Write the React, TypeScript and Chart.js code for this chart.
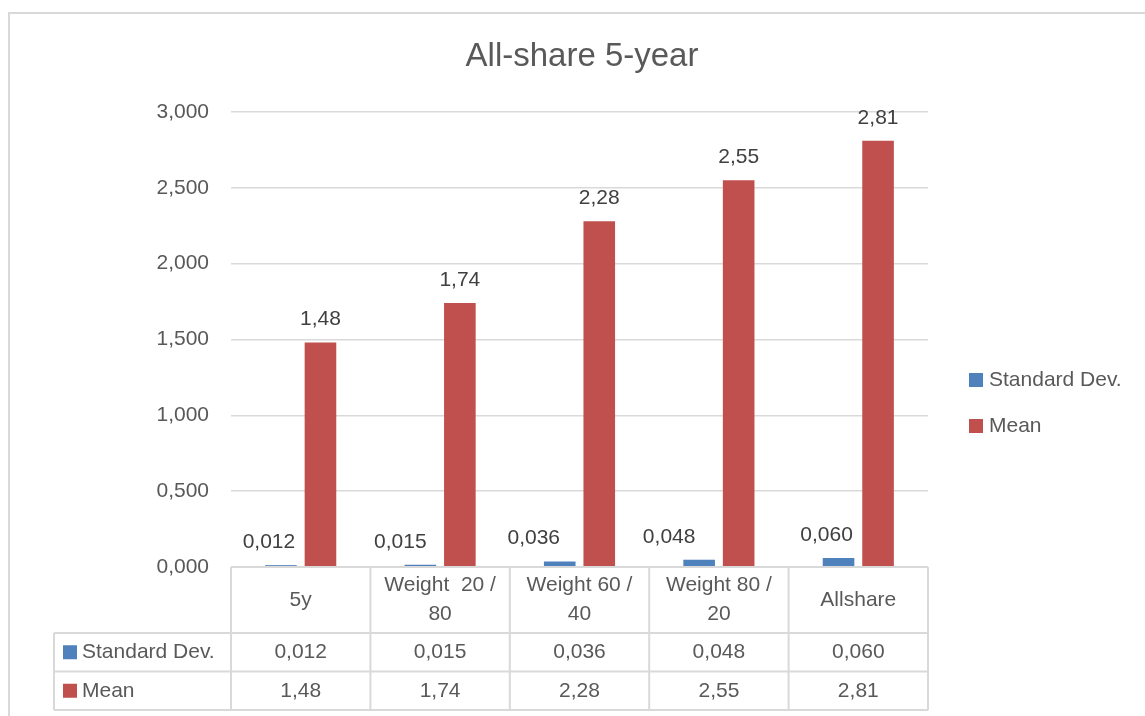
import React, { useEffect, useRef } from 'react';
import { Chart, registerables } from 'chart.js';

Chart.register(...registerables);

const title = 'All-share 5-year';
const categories = ['5y', 'Weight  20 / 80', 'Weight 60 / 40', 'Weight 80 / 20', 'Allshare'];
const seriesNames = ['Standard Dev.', 'Mean'];
const stdDev = [0.012, 0.015, 0.036, 0.048, 0.06];
const mean = [1.48, 1.74, 2.28, 2.55, 2.81];
const seriesDecimals = [3, 2];
const yMin = 0;
const yMax = 3;
const yStep = 0.5;

// style: horizontal nudges of the data labels (Excel avoids overlaps)
const labelNudge = [
  [-12, -20, -26, -30, -12],
  [0, 0, 0, 0, 0],
];

const colors = ['#4F81BD', '#C0504D'];
const textColor = '#595959';
const labelColor = '#404040';
const lineColor = '#D9D9D9';
const FONT = '"Liberation Sans", Arial, sans-serif';

const fmt = (v: number, d: number) => v.toFixed(d).replace('.', ',');
const wrap = (s: string) => {
  const parts = s.split(' / ');
  return parts.length === 2 ? [parts[0] + ' /', parts[1]] : [s];
};

const extras = {
  id: 'excelExtras',
  afterDatasetsDraw(chart: any) {
    const ctx = chart.ctx;
    ctx.save();
    ctx.font = `21px ${FONT}`;
    ctx.fillStyle = labelColor;
    ctx.textAlign = 'center';
    ctx.textBaseline = 'middle';
    chart.data.datasets.forEach((ds: any, di: number) => {
      const meta = chart.getDatasetMeta(di);
      meta.data.forEach((el: any, i: number) => {
        ctx.fillText(fmt(ds.data[i], seriesDecimals[di]), el.x + labelNudge[di][i], el.y - 23);
      });
    });
    ctx.restore();
  },
  afterDraw(chart: any) {
    const ctx = chart.ctx;
    const xs = chart.scales.x;
    const area = chart.chartArea;
    ctx.save();
    // frame
    ctx.strokeStyle = lineColor;
    ctx.lineWidth = 2;
    ctx.strokeRect(9, 13, 1300, 900);

    // title
    ctx.fillStyle = textColor;
    ctx.font = `33px ${FONT}`;
    ctx.textAlign = 'center';
    ctx.textBaseline = 'middle';
    ctx.fillText(title, 582, 57);

    // legend
    ctx.font = `21px ${FONT}`;
    ctx.textAlign = 'left';
    seriesNames.forEach((n, i) => {
      const cy = 380 + i * 46;
      ctx.fillStyle = colors[i];
      ctx.fillRect(969, cy - 7, 14, 14);
      ctx.fillStyle = textColor;
      ctx.fillText(n, 989, cy);
    });

    // data table
    const n = categories.length;
    const cw = (area.right - area.left) / n;
    const top = area.bottom;
    const headerBottom = top + 66;
    const rowH = 38.5;
    const tableLeft = 54;
    const bottom = headerBottom + rowH * 2;
    ctx.strokeStyle = lineColor;
    ctx.lineWidth = 2;
    ctx.beginPath();
    ctx.moveTo(area.left, top);
    ctx.lineTo(area.right, top);
    for (let r = 0; r <= 2; r++) {
      const yy = headerBottom + r * rowH;
      ctx.moveTo(tableLeft, yy);
      ctx.lineTo(area.right, yy);
    }
    ctx.moveTo(tableLeft, headerBottom);
    ctx.lineTo(tableLeft, bottom);
    for (let c = 0; c <= n; c++) {
      const xx = area.left + c * cw;
      ctx.moveTo(xx, top);
      ctx.lineTo(xx, bottom);
    }
    ctx.stroke();

    ctx.fillStyle = textColor;
    ctx.textAlign = 'center';
    categories.forEach((cat, i) => {
      const cx = xs.getPixelForValue(i);
      const lines = wrap(cat);
      const mid = (top + headerBottom) / 2;
      lines.forEach((ln, k) => {
        ctx.fillText(ln, cx, mid + (k - (lines.length - 1) / 2) * 29);
      });
    });
    [stdDev, mean].forEach((arr, r) => {
      const cy = headerBottom + rowH * (r + 0.5);
      ctx.textAlign = 'left';
      ctx.fillStyle = colors[r];
      ctx.fillRect(63, cy - 7, 14, 14);
      ctx.fillStyle = textColor;
      ctx.fillText(seriesNames[r], 82, cy);
      ctx.textAlign = 'center';
      arr.forEach((v, i) => {
        ctx.fillText(fmt(v, seriesDecimals[r]), xs.getPixelForValue(i), cy);
      });
    });
    ctx.restore();
  },
};

export default function App() {
  const ref = useRef<HTMLCanvasElement>(null);
  useEffect(() => {
    if (!ref.current) return;
    const chart = new Chart(ref.current, {
      type: 'bar',
      data: {
        labels: categories,
        datasets: [
          { label: seriesNames[0], data: stdDev, backgroundColor: colors[0] },
          { label: seriesNames[1], data: mean, backgroundColor: colors[1] },
        ],
      },
      options: {
        animation: false,
        responsive: false,
        devicePixelRatio: 1,
        layout: { padding: { left: 0, top: 112, right: 217, bottom: 149 } },
        datasets: { bar: { categoryPercentage: 0.567, barPercentage: 0.8 } },
        plugins: { legend: { display: false }, title: { display: false }, tooltip: { enabled: false } },
        scales: {
          x: {
            grid: { display: false },
            border: { display: false },
            ticks: { display: false },
            afterFit: (s: any) => { s.height = 0; },
          },
          y: {
            min: yMin,
            max: yMax,
            afterFit: (s: any) => { s.width = 231; },
            grid: { color: lineColor, lineWidth: 1.5, drawTicks: false },
            border: { display: false },
            ticks: {
              stepSize: yStep,
              padding: 22,
              color: textColor,
              font: { family: FONT, size: 21 },
              callback: (v: any) => fmt(Number(v), 3),
            },
          },
        },
      },
      plugins: [extras],
    });
    return () => chart.destroy();
  }, []);
  return (
    <div style={{ position: 'fixed', left: 0, top: 0, width: 1145, height: 716, background: '#fff' }}>
      <canvas ref={ref} width={1145} height={716} style={{ display: 'block' }} />
    </div>
  );
}
